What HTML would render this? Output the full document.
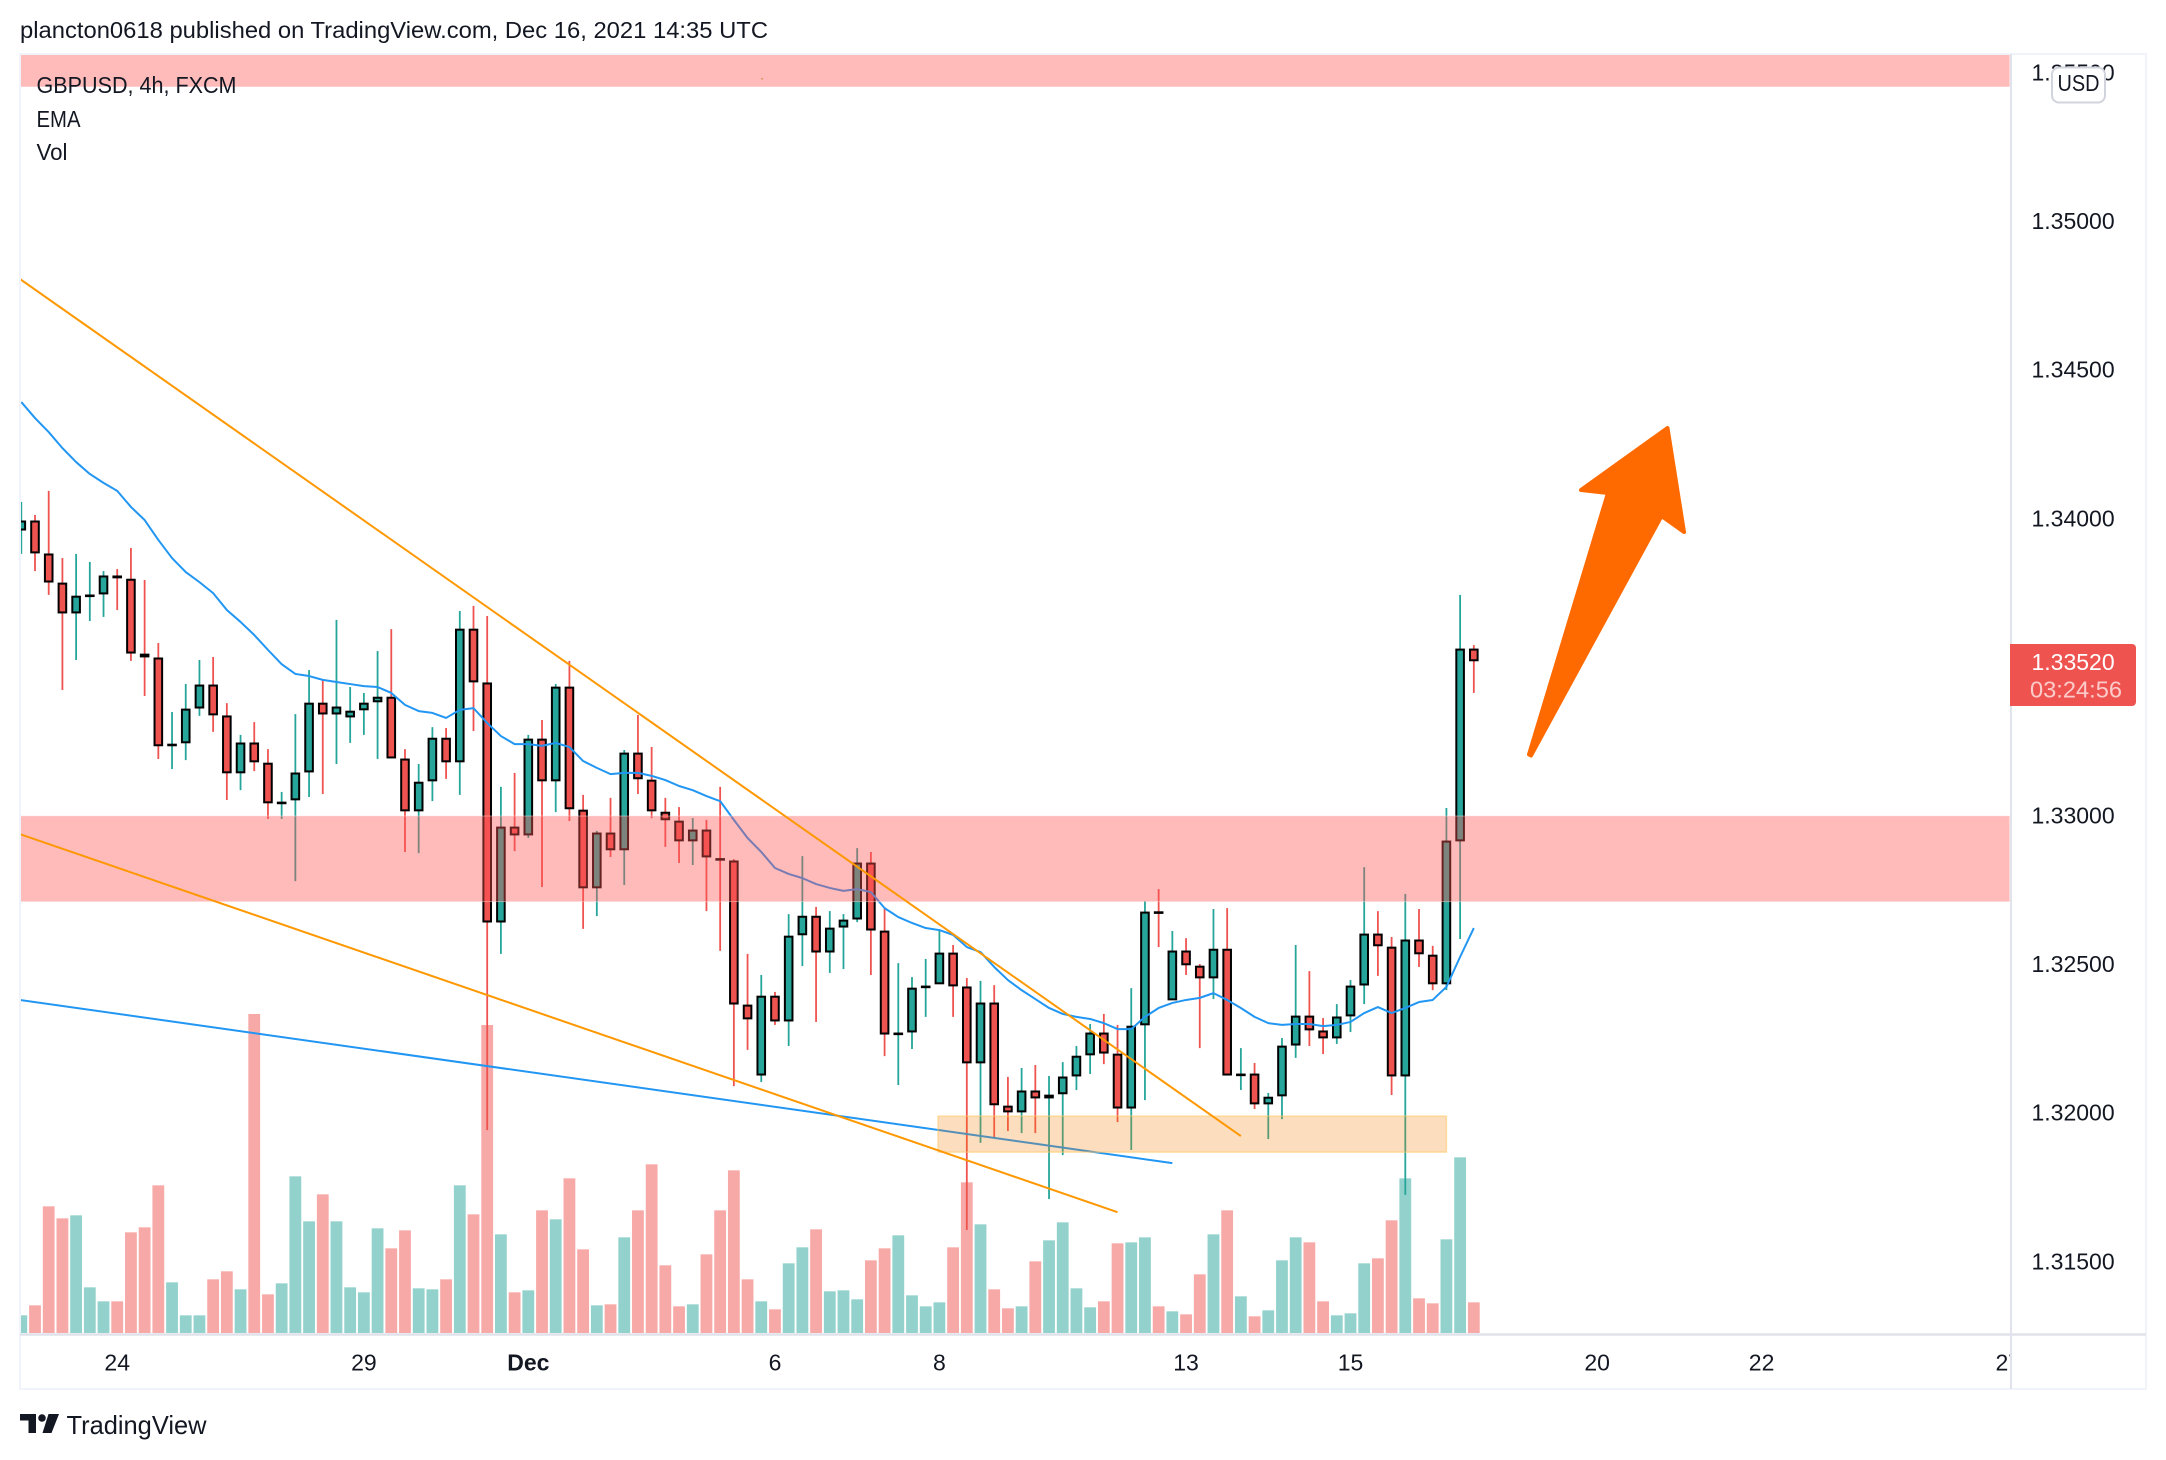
<!DOCTYPE html>
<html lang="en">
<head>
<meta charset="utf-8">
<title>GBPUSD 4h chart</title>
<style>
html,body{margin:0;padding:0;background:#fff;}
svg{display:block;font-family:"Liberation Sans",sans-serif;}
text{fill:#131722;font-size:23px;}
</style>
</head>
<body>
<svg id="chart" xmlns="http://www.w3.org/2000/svg" width="2166" height="1460" viewBox="0 0 2166 1460">
  <defs>
    <clipPath id="pane"><rect x="21" y="55" width="1989" height="1279"/></clipPath>
    <clipPath id="timeclip"><rect x="21" y="1336" width="1989" height="53"/></clipPath>
  </defs>
  <rect x="0" y="0" width="2166" height="1460" fill="#fff"/>
  <text x="20" y="38" textLength="748" lengthAdjust="spacingAndGlyphs">plancton0618 published on TradingView.com, Dec 16, 2021 14:35 UTC</text>
  <g id="priceAxis"></g>
  <g id="timeAxis" clip-path="url(#timeclip)"></g>
  <g clip-path="url(#pane)">
    <g id="volumeLayer"></g>
    <g id="candleLayer"></g>
    <g id="emaLayer"></g>
    <g id="drawLayer"></g>
  </g>
  <polygon points="1667.5,428 1684,532 1661.5,516 1531,755.5 1529,754.5 1608,493 1581,490" fill="#FF6A00" stroke="#FF6A00" stroke-width="4" stroke-linejoin="round"/>
  <rect x="761.5" y="78" width="1.2" height="1.5" fill="#C9822F"/>
  <g>
    <rect x="20" y="54" width="2126" height="1335" fill="none" stroke="#F0F3FA" stroke-width="2"/>
    <line x1="2011" y1="54" x2="2011" y2="1389" stroke="#E0E3EB" stroke-width="2"/>
    <line x1="20" y1="1334.5" x2="2146" y2="1334.5" stroke="#E0E3EB" stroke-width="2.4"/>
  </g>
  <g>
    <text x="36.5" y="93" textLength="200" lengthAdjust="spacingAndGlyphs">GBPUSD, 4h, FXCM</text>
    <text x="36.5" y="127" textLength="44" lengthAdjust="spacingAndGlyphs">EMA</text>
    <text x="36.5" y="160" textLength="31" lengthAdjust="spacingAndGlyphs">Vol</text>
  </g>
  <g>
    <rect x="2052" y="67.5" width="53" height="35" rx="7" fill="#fff" stroke="#D1D4DC" stroke-width="2"/>
    <text x="2078.5" y="91" text-anchor="middle" textLength="42" lengthAdjust="spacingAndGlyphs">USD</text>
  </g>
  <g>
    <path d="M2010 644H2132a4 4 0 0 1 4 4V702a4 4 0 0 1 -4 4H2010Z" fill="#EF5350"/>
    <text x="2031.5" y="670" style="fill:#fff">1.33520</text>
    <text x="2030" y="697.5" textLength="92" lengthAdjust="spacingAndGlyphs" style="fill:#FBCCCB">03:24:56</text>
  </g>
  <g>
    <path d="M20 1414H36V1433H28.5V1420.5H20Z" fill="#131722"/>
    <circle cx="42" cy="1418" r="3.8" fill="#131722"/>
    <path d="M48.5 1414H59L51.5 1433H42.5Z" fill="#131722"/>
    <text x="66.5" y="1434" textLength="140" lengthAdjust="spacingAndGlyphs" style="font-size:26px">TradingView</text>
  </g>
</svg>
<script>
const opens=[1.33962,1.33993,1.33882,1.33784,1.33683,1.33741,1.33747,1.33808,1.33797,1.33545,
1.33532,1.33240,1.33246,1.33363,1.33441,1.33337,1.33145,1.33246,1.33178,1.33045,
1.33054,1.33148,1.33380,1.33343,1.33333,1.33357,1.33384,1.33400,1.33192,1.33017,
1.33118,1.33262,1.33182,1.33629,1.33448,1.32643,1.32963,1.32936,1.33259,1.33118,
1.33434,1.33020,1.32758,1.32943,1.32886,1.33212,1.33121,1.33013,1.32983,1.32916,
1.32953,1.32857,1.32849,1.32364,1.32128,1.32394,1.32310,1.32600,1.32663,1.32542,
1.32626,1.32653,1.32842,1.32613,1.32268,1.32273,1.32426,1.32435,1.32539,1.32425,
1.32169,1.32371,1.32024,1.32004,1.32075,1.32051,1.32065,1.32125,1.32196,1.32270,
1.32199,1.32017,1.32297,1.32678,1.32381,1.32546,1.32495,1.32455,1.32552,1.32130,
1.32132,1.32031,1.32058,1.32229,1.32327,1.32277,1.32253,1.32327,1.32431,1.32603,
1.32559,1.32125,1.32583,1.32532,1.32435,1.32916,1.33562];
const highs=[1.34057,1.34013,1.34094,1.33868,1.33882,1.33855,1.33824,1.33831,1.33902,1.33794,
1.33582,1.33350,1.33444,1.33525,1.33535,1.33380,1.33273,1.33316,1.33225,1.33081,
1.33343,1.33491,1.33458,1.33660,1.33434,1.33414,1.33555,1.33629,1.33225,1.33175,
1.33299,1.33296,1.33690,1.33707,1.33673,1.33098,1.33145,1.33273,1.33323,1.33444,
1.33522,1.33071,1.32950,1.33061,1.33222,1.33340,1.33232,1.33061,1.33030,1.32993,
1.32987,1.33098,1.32855,1.32536,1.32465,1.32408,1.32670,1.32865,1.32694,1.32680,
1.32670,1.32892,1.32879,1.32687,1.32505,1.32458,1.32519,1.32616,1.32566,1.32455,
1.32445,1.32431,1.32122,1.32152,1.32162,1.32125,1.32172,1.32226,1.32300,1.32334,
1.32297,1.32421,1.32714,1.32754,1.32613,1.32589,1.32502,1.32687,1.32690,1.32219,
1.32169,1.32068,1.32253,1.32566,1.32478,1.32320,1.32367,1.32448,1.32828,1.32680,
1.32593,1.32738,1.32687,1.32563,1.33027,1.33744,1.33575];
const lows=[1.33882,1.33824,1.33744,1.33424,1.33525,1.33656,1.33670,1.33693,1.33522,1.33404,
1.33192,1.33158,1.33188,1.33337,1.33283,1.33054,1.33087,1.33151,1.32990,1.32990,
1.32781,1.33064,1.33074,1.33175,1.33246,1.33273,1.33192,1.33195,1.32879,1.32875,
1.33050,1.33125,1.33071,1.33286,1.31943,1.32536,1.32882,1.32926,1.32761,1.33013,
1.32983,1.32620,1.32663,1.32862,1.32768,1.33074,1.32993,1.32896,1.32842,1.32835,
1.32680,1.32546,1.32091,1.32213,1.32105,1.32297,1.32226,1.32495,1.32307,1.32472,
1.32485,1.32643,1.32465,1.32192,1.32095,1.32216,1.32324,1.32435,1.32324,1.31607,
1.31900,1.31916,1.31940,1.31933,1.31933,1.31711,1.31859,1.32078,1.32132,1.32165,
1.31970,1.31876,1.32044,1.32559,1.32381,1.32465,1.32219,1.32384,1.32128,1.32078,
1.32014,1.31913,1.31980,1.32186,1.32226,1.32199,1.32233,1.32273,1.32367,1.32462,
1.32061,1.31725,1.32492,1.32414,1.32414,1.32586,1.33414];
const closes=[1.33993,1.33885,1.33787,1.33683,1.33740,1.33744,1.33808,1.33801,1.33548,1.33535,
1.33236,1.33242,1.33360,1.33441,1.33340,1.33145,1.33246,1.33182,1.33044,1.33047,
1.33145,1.33380,1.33343,1.33367,1.33353,1.33380,1.33400,1.33195,1.33017,1.33114,
1.33262,1.33182,1.33629,1.33451,1.32643,1.32963,1.32936,1.33259,1.33118,1.33434,
1.33024,1.32758,1.32943,1.32886,1.33212,1.33125,1.33017,1.32987,1.32916,1.32953,
1.32862,1.32855,1.32367,1.32317,1.32394,1.32310,1.32596,1.32663,1.32542,1.32623,
1.32650,1.32842,1.32616,1.32266,1.32270,1.32421,1.32428,1.32539,1.32428,1.32169,
1.32371,1.32028,1.32004,1.32075,1.32051,1.32061,1.32122,1.32192,1.32270,1.32202,
1.32017,1.32293,1.32677,1.32676,1.32546,1.32499,1.32455,1.32552,1.32128,1.32132,
1.32031,1.32054,1.32226,1.32327,1.32280,1.32253,1.32324,1.32428,1.32603,1.32563,
1.32125,1.32583,1.32536,1.32435,1.32916,1.33562,1.33522];
const volumes=[53,83,380,344,353,137,95,95,302,317,
443,152,53,53,161,185,131,957,116,149,
470,335,416,335,137,122,314,254,308,134,
131,161,443,356,924,296,122,128,368,341,
464,251,83,86,287,368,506,203,80,86,
236,368,488,161,95,71,209,257,311,125,
128,101,218,254,293,113,80,92,257,452,
326,131,74,80,215,278,332,134,77,95,
269,272,287,80,65,56,176,296,368,110,
50,68,218,287,272,95,53,59,209,224,
338,464,104,89,281,527,92];
const emaValues=[1.34393,1.34339,1.34292,1.34238,1.34191,1.34151,1.34121,1.34094,1.34040,1.33996,
1.33929,1.33868,1.33821,1.33787,1.33750,1.33693,1.33653,1.33609,1.33559,1.33511,
1.33478,1.33471,1.33458,1.33451,1.33444,1.33437,1.33434,1.33414,1.33374,1.33353,
1.33347,1.33330,1.33357,1.33363,1.33313,1.33269,1.33242,1.33242,1.33236,1.33246,
1.33232,1.33185,1.33162,1.33141,1.33145,1.33145,1.33135,1.33121,1.33101,1.33087,
1.33067,1.33050,1.32987,1.32926,1.32879,1.32825,1.32805,1.32791,1.32771,1.32758,
1.32748,1.32754,1.32744,1.32690,1.32660,1.32640,1.32623,1.32616,1.32600,1.32559,
1.32542,1.32492,1.32448,1.32414,1.32384,1.32354,1.32334,1.32324,1.32317,1.32303,
1.32283,1.32283,1.32324,1.32354,1.32371,1.32381,1.32388,1.32404,1.32381,1.32354,
1.32324,1.32303,1.32297,1.32300,1.32300,1.32293,1.32297,1.32307,1.32337,1.32357,
1.32337,1.32354,1.32374,1.32381,1.32425,1.32526,1.32623];
const priceTicks=[1.355,1.35,1.345,1.34,1.335,1.33,1.325,1.32,1.315];
const priceTickLabels=["1.35500","1.35000","1.34500","1.34000","","1.33000","1.32500","1.32000","1.31500"];
const timeTickBars=[7,25,37,55,67,85,97,115,127,145];
const timeTickLabels=["24","29","Dec","6","8","13","15","20","22","27"];
const upperTrendBars=[-0.1,89];
const upperTrendPrices=[1.34807,1.31923];
const lowerTrendBars=[-0.1,80];
const lowerTrendPrices=[1.32939,1.31667];
const blueTrendBars=[-0.1,84];
const blueTrendPrices=[1.32381,1.31832];
const topBandBars=[-0.1,145.1];
const topBandPrices=[1.35564,1.35454];
const midBandBars=[-0.1,145.1];
const midBandPrices=[1.33,1.32712];
const zoneBars=[66.9,104];
const zonePrices=[1.3199,1.31869];

const NS='http://www.w3.org/2000/svg';
const X0=21.3, BAR_STEP=13.703, Y_REF=816, PX_PER_PRICE=29718, VOL_BASE=1333, VOL_SCALE=1/3;
function xOf(i){return X0+BAR_STEP*i;}
function yOf(p){return Y_REF-(p-1.33)*PX_PER_PRICE;}
function volY(v){return VOL_BASE-v*VOL_SCALE;}
function make(tag,attrs,parent){
  const el=document.createElementNS(NS,tag);
  for(const k in attrs){el.setAttribute(k,attrs[k]);}
  parent.appendChild(el);
  return el;
}
const RED='#EF5350', GREEN='#26A69A', VOL_RED='#F7A9A7', VOL_GREEN='#93D2CC';
const volumeLayer=document.getElementById('volumeLayer');
const candleLayer=document.getElementById('candleLayer');
const emaLayer=document.getElementById('emaLayer');
const drawLayer=document.getElementById('drawLayer');
const priceAxis=document.getElementById('priceAxis');
const timeAxis=document.getElementById('timeAxis');

volumes.forEach(function(v,i){
  const up=closes[i]>=opens[i];
  const bar=make('rect',{x:xOf(i)-5.9,y:volY(v),width:11.8,height:VOL_BASE-volY(v),fill:up?VOL_GREEN:VOL_RED},volumeLayer);
  
  
});

opens.forEach(function(o,i){
  const c=closes[i], up=c>=o, col=up?GREEN:RED, cx=xOf(i);
  const wick=make('line',{x1:cx,x2:cx,y1:yOf(highs[i]),y2:yOf(lows[i]),stroke:col,'stroke-width':1.8},candleLayer);
  
  
  const top=yOf(Math.max(o,c)), bot=yOf(Math.min(o,c));
  const body=make('rect',{x:cx-3.8,y:top+0.6,width:7.6,height:Math.max(0.6,bot-top-1.2),fill:col,stroke:'#000','stroke-width':2},candleLayer);
  
  
});

const emaLine=make('polyline',{points:emaValues.map(function(v,i){return xOf(i)+','+yOf(v);}).join(' '),fill:'none',stroke:'#2196F3','stroke-width':2,'stroke-linejoin':'round'},emaLayer);



const blueTrend=make('line',{x1:xOf(blueTrendBars[0]),y1:yOf(blueTrendPrices[0]),x2:xOf(blueTrendBars[1]),y2:yOf(blueTrendPrices[1]),stroke:'#2196F3','stroke-width':2},drawLayer);



const topBand=make('rect',{x:xOf(topBandBars[0]),y:yOf(topBandPrices[0]),width:xOf(topBandBars[1])-xOf(topBandBars[0]),height:yOf(topBandPrices[1])-yOf(topBandPrices[0]),fill:'rgba(255,82,82,0.4)'},drawLayer);



const midBand=make('rect',{x:xOf(midBandBars[0]),y:yOf(midBandPrices[0]),width:xOf(midBandBars[1])-xOf(midBandBars[0]),height:yOf(midBandPrices[1])-yOf(midBandPrices[0]),fill:'rgba(255,82,82,0.4)',stroke:'rgba(255,225,225,0.45)','stroke-width':1},drawLayer);



const supportZone=make('rect',{x:xOf(zoneBars[0]),y:yOf(zonePrices[0]),width:xOf(zoneBars[1])-xOf(zoneBars[0]),height:yOf(zonePrices[1])-yOf(zonePrices[0]),fill:'rgba(245,124,0,0.25)',stroke:'rgba(255,200,100,0.55)','stroke-width':1.5},drawLayer);



const upperTrend=make('line',{x1:xOf(upperTrendBars[0]),y1:yOf(upperTrendPrices[0]),x2:xOf(upperTrendBars[1]),y2:yOf(upperTrendPrices[1]),stroke:'#FF9800','stroke-width':2},drawLayer);



const lowerTrend=make('line',{x1:xOf(lowerTrendBars[0]),y1:yOf(lowerTrendPrices[0]),x2:xOf(lowerTrendBars[1]),y2:yOf(lowerTrendPrices[1]),stroke:'#FF9800','stroke-width':2},drawLayer);



priceTicks.forEach(function(p,i){
  if(!priceTickLabels[i]){return;}
  const t=make('text',{x:2031.5,y:yOf(p)+7.5},priceAxis);
  t.textContent=priceTickLabels[i];
  
  
});

timeTickBars.forEach(function(b,i){
  const t=make('text',{x:xOf(b),y:1370.5,'text-anchor':'middle'},timeAxis);
  t.textContent=timeTickLabels[i];
  if(timeTickLabels[i]==='Dec'){t.style.fontWeight='bold';}
  
  
});
</script>
</body>
</html>
